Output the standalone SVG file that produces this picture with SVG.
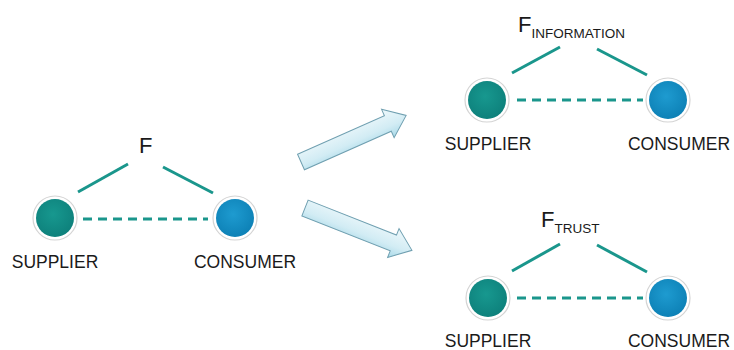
<svg xmlns="http://www.w3.org/2000/svg" width="734" height="350" viewBox="0 0 734 350">
<defs>
<linearGradient id="arrowGrad" x1="0" y1="0" x2="0" y2="1">
<stop offset="0" stop-color="#eef8fb"/>
<stop offset="0.6" stop-color="#d2ecf4"/>
<stop offset="1" stop-color="#a9d9e8"/>
</linearGradient>
<radialGradient id="supGrad" cx="0.45" cy="0.4" r="0.65">
<stop offset="0" stop-color="#17988f"/>
<stop offset="1" stop-color="#0d7f7a"/>
</radialGradient>
<radialGradient id="conGrad" cx="0.45" cy="0.4" r="0.65">
<stop offset="0" stop-color="#1e9bd0"/>
<stop offset="1" stop-color="#0c7fb4"/>
</radialGradient>
<g id="arrowShape">
<polygon points="0,-8.5 95,-8.5 95,-15.5 115,0 95,15.5 95,8.5 0,8.5" fill="url(#arrowGrad)" stroke="#6f9fb0" stroke-width="1"/>
</g>
</defs>
<style>
.solid{stroke:#1a968c;stroke-width:3;fill:none}
.dash{stroke:#1a968c;stroke-width:3;fill:none;stroke-dasharray:9 6}
.ring{fill:#ffffff;stroke:#d4d4d4;stroke-width:1.2}
.sup{fill:url(#supGrad)}
.con{fill:url(#conGrad)}
.lbl{font-family:"Liberation Sans",Arial,sans-serif;font-size:17.5px;fill:#1a1a1a;text-anchor:middle}
.f{font-family:"Liberation Sans",Arial,sans-serif;font-size:22px;fill:#1a1a1a}
.sub{font-family:"Liberation Sans",Arial,sans-serif;font-size:13.5px;fill:#1a1a1a}
</style>
<rect width="734" height="350" fill="#ffffff"/>

<g id="connectors">
<line class="solid" x1="78" y1="192" x2="128" y2="164"/>
<line class="solid" x1="163" y1="167" x2="213" y2="193"/>
<line class="dash" x1="83" y1="219" x2="208" y2="219"/>
<line class="solid" x1="512" y1="73" x2="560" y2="47"/>
<line class="solid" x1="597" y1="49" x2="647" y2="75"/>
<line class="dash" x1="517" y1="100" x2="643" y2="100"/>
<line class="solid" x1="512" y1="271" x2="560" y2="244"/>
<line class="solid" x1="597" y1="245" x2="647" y2="272"/>
<line class="dash" x1="517" y1="298" x2="643" y2="298"/>
</g>

<g id="arrow-up"><use href="#arrowShape" transform="translate(301,162) rotate(-23.9)"/></g>
<g id="arrow-down"><use href="#arrowShape" transform="translate(305,208) rotate(21.6)"/></g>

<g id="label-F"><text class="f" x="139" y="153">F</text></g>
<g id="label-F-information"><text class="f" x="518" y="32">F<tspan class="sub" dy="6">INFORMATION</tspan></text></g>
<g id="label-F-trust"><text class="f" x="541" y="227">F<tspan class="sub" dy="6">TRUST</tspan></text></g>

<g id="supplier-left"><circle class="ring" cx="55" cy="218" r="22"/><circle class="sup" cx="55" cy="218" r="19"/><text class="lbl" x="55" y="268">SUPPLIER</text></g>
<g id="consumer-left"><circle class="ring" cx="235" cy="218" r="22"/><circle class="con" cx="235" cy="218" r="19"/><text class="lbl" x="245" y="268">CONSUMER</text></g>

<g id="supplier-top"><circle class="ring" cx="487" cy="100" r="22"/><circle class="sup" cx="487" cy="100" r="19"/><text class="lbl" x="488" y="150">SUPPLIER</text></g>
<g id="consumer-top"><circle class="ring" cx="668" cy="100" r="22"/><circle class="con" cx="668" cy="100" r="19"/><text class="lbl" x="679" y="150">CONSUMER</text></g>

<g id="supplier-bottom"><circle class="ring" cx="488" cy="298" r="22"/><circle class="sup" cx="488" cy="298" r="19"/><text class="lbl" x="488" y="347">SUPPLIER</text></g>
<g id="consumer-bottom"><circle class="ring" cx="668" cy="298" r="22"/><circle class="con" cx="668" cy="298" r="19"/><text class="lbl" x="679" y="347">CONSUMER</text></g>
</svg>
